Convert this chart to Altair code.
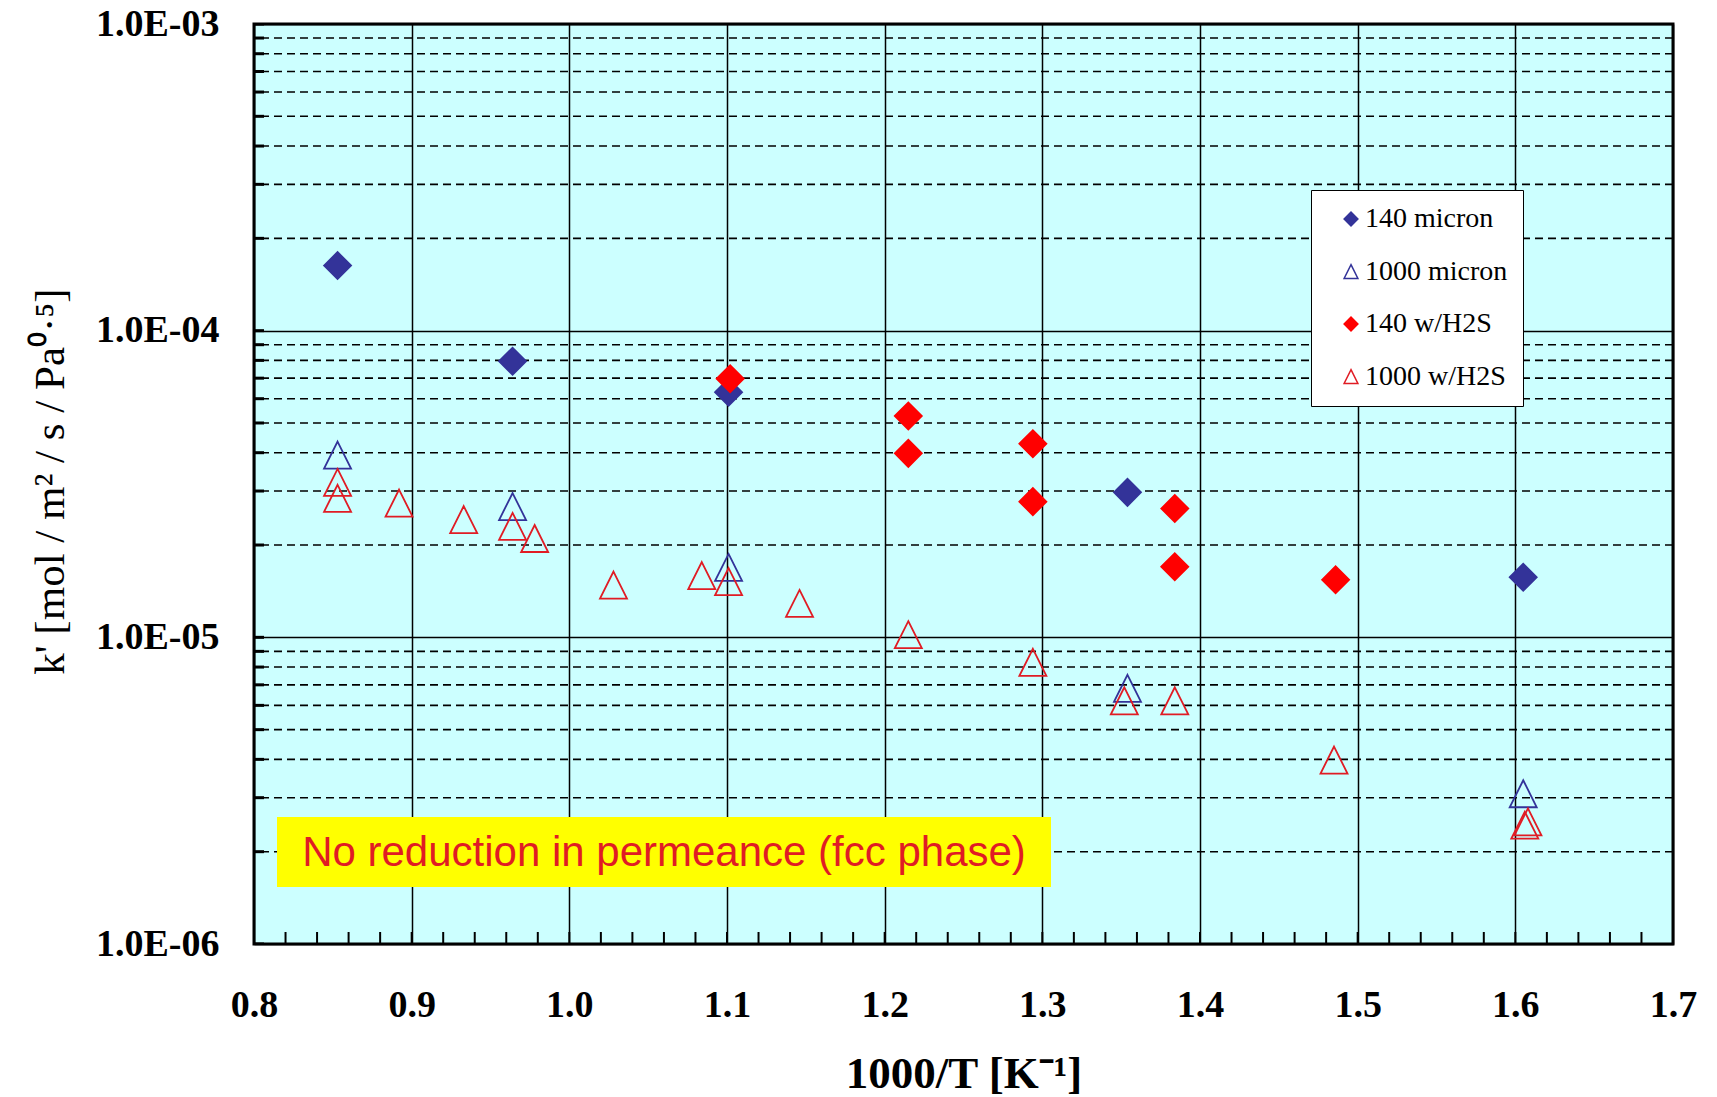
import altair as alt
import pandas as pd

# ---------------- data ----------------
series_names = ["140 micron", "1000 micron", "140 w/H2S", "1000 w/H2S"]

x_140 = [0.853, 0.964, 1.101, 1.354, 1.605]
y_140 = [1.63e-4, 7.95e-5, 6.3e-5, 2.97e-5, 1.57e-5]

x_1000 = [0.853, 0.964, 1.101, 1.354, 1.605]
y_1000 = [3.93e-5, 2.67e-5, 1.69e-5, 6.82e-6, 3.09e-6]

x_140h = [1.102, 1.215, 1.215, 1.294, 1.294, 1.384, 1.384, 1.486]
y_140h = [6.97e-5, 5.27e-5, 3.98e-5, 4.28e-5, 2.77e-5, 2.63e-5, 1.70e-5, 1.54e-5]

x_1000h = [0.853, 0.853, 0.892, 0.933, 0.964, 0.978, 1.028, 1.084, 1.101,
           1.146, 1.215, 1.294, 1.352, 1.384, 1.485, 1.606, 1.608]
y_1000h = [3.20e-5, 2.84e-5, 2.74e-5, 2.42e-5, 2.30e-5, 2.10e-5, 1.48e-5, 1.59e-5, 1.52e-5,
           1.29e-5, 1.02e-5, 8.29e-6, 6.21e-6, 6.21e-6, 3.98e-6, 2.44e-6, 2.50e-6]

# axis tick positions
x_major = [0.8, 0.9, 1.0, 1.1, 1.2, 1.3, 1.4, 1.5, 1.6, 1.7]
x_minor = [round(0.8 + 0.02 * i, 2) for i in range(1, 45)]
y_major = [1e-6, 1e-5, 1e-4, 1e-3]
y_mantissa = [2, 3, 4, 5, 6, 7, 8, 9]
y_minor = [m * d for d in [1e-6, 1e-5, 1e-4] for m in y_mantissa]

note_text = "No reduction in permeance (fcc phase)"
x_title = "1000/T [K\u207b\u00b9]"
y_title = "k' [mol / m\u00b2 / s / Pa\u2070\u00b7\u2075]"

# ---------------- tables ----------------
rows = []
for name, xs, ys in [(series_names[0], x_140, y_140),
                     (series_names[1], x_1000, y_1000),
                     (series_names[2], x_140h, y_140h),
                     (series_names[3], x_1000h, y_1000h)]:
    for xv, yv in zip(xs, ys):
        rows.append({"series": name, "x": xv, "y": yv})
pts = pd.DataFrame(rows)

yminor_df = pd.DataFrame({"y": y_minor})
ytick_df = pd.DataFrame({"y": y_minor + y_major})
xtick_df = pd.DataFrame({"x": x_minor})
note_df = pd.DataFrame({"t": [note_text]})

# ---------------- scales / axes ----------------
xs_scale = alt.Scale(domain=[0.8, 1.7], nice=False, zero=False)
ys_scale = alt.Scale(type="log", domain=[1e-6, 1e-3], nice=False)

SERIF = "Liberation Serif"
BLUE = "#333399"
RED = "#ff0000"
RED_OPEN = "#e01c24"
TRI = "M0,-1L1,1L-1,1Z"

x_axis = alt.Axis(
    values=x_major, format=".1f", grid=True, gridColor="black", gridWidth=1.5,
    ticks=False, tickSize=0, domain=False,
    labelFont=SERIF, labelFontSize=38, labelFontWeight="bold", labelColor="black",
    labelBaseline="alphabetic", labelPadding=72, labelOverlap=False, labelFlush=False,
    title=x_title, titleFont=SERIF, titleFontSize=45, titleFontWeight="bold",
    titleColor="black", titleX=709.5, titleY=143, titleAlign="center",
    titleBaseline="alphabetic",
)
y_axis = alt.Axis(
    values=y_major, grid=True, gridColor="black", gridWidth=1.5,
    ticks=False, tickSize=0, domain=False,
    labelExpr="'1.0E-0' + abs(round(log(datum.value) / LN10))",
    labelFont=SERIF, labelFontSize=38, labelFontWeight="bold", labelColor="black",
    labelPadding=35, labelOverlap=False, labelFlush=False,
    title=y_title, titleFont=SERIF, titleFontSize=43, titleFontWeight="normal",
    titleColor="black", titleX=-204, titleY=457, titleAngle=270,
    titleAlign="center", titleBaseline="middle",
)

legend = alt.Legend(
    title=None, orient="none", legendX=1057, legendY=166,
    fillColor="white", strokeColor="black", padding=15, rowPadding=24.5,
    symbolSize=190, symbolStrokeWidth=1.5, symbolOffset=11, labelOffset=0,
    labelFont=SERIF, labelFontSize=28, labelColor="black",
)

X = lambda f: alt.X(f, scale=xs_scale, axis=x_axis)
Y = lambda f: alt.Y(f, scale=ys_scale, axis=y_axis)

# ---------------- layers ----------------
minor_grid = alt.Chart(yminor_df).mark_rule(
    color="black", strokeWidth=1.6, strokeDash=[8, 5]
).encode(y=Y("y:Q"))

y_ticks = alt.Chart(ytick_df).mark_tick(
    orient="horizontal", size=20, thickness=3, color="black", clip=True, opacity=1
).encode(
    x=alt.datum(0.8, type="quantitative", scale=xs_scale, axis=x_axis),
    y=Y("y:Q"),
)

x_ticks = alt.Chart(xtick_df).mark_tick(
    orient="vertical", size=24, thickness=2, color="black", clip=True, opacity=1
).encode(
    x=X("x:Q"),
    y=alt.datum(1e-6, type="quantitative", scale=ys_scale, axis=y_axis),
)

note_box = alt.Chart(note_df).mark_rect(color="#ffff00", opacity=1).encode(
    x=alt.value(23), x2=alt.value(797), y=alt.value(793), y2=alt.value(863)
)
note_label = alt.Chart(note_df).mark_text(
    font="Liberation Sans", fontSize=42, color=RED_OPEN, align="center", baseline="middle"
).encode(x=alt.value(410), y=alt.value(829), text="t:N")

points = alt.Chart(pts).mark_point(size=729, strokeWidth=1.8, opacity=1).encode(
    x=X("x:Q"),
    y=Y("y:Q"),
    shape=alt.Shape("series:N", scale=alt.Scale(domain=series_names,
                    range=["diamond", TRI, "diamond", TRI]), legend=legend),
    fill=alt.Fill("series:N", scale=alt.Scale(domain=series_names,
                  range=[BLUE, "transparent", RED, "transparent"]), legend=legend),
    stroke=alt.Stroke("series:N", scale=alt.Scale(domain=series_names,
                      range=[BLUE, BLUE, RED, RED_OPEN]), legend=legend),
)

chart = alt.layer(
    minor_grid, y_ticks, x_ticks, note_box, note_label, points
).properties(
    width=1419, height=920,
    autosize=alt.AutoSizeParams(type="none"),
    padding={"left": 254, "top": 24, "right": 44, "bottom": 153},
    background="white",
).configure_view(
    fill="#ccffff", stroke="black", strokeWidth=3
)

chart.save("out.html", embed_options={"renderer": "svg", "actions": False})
